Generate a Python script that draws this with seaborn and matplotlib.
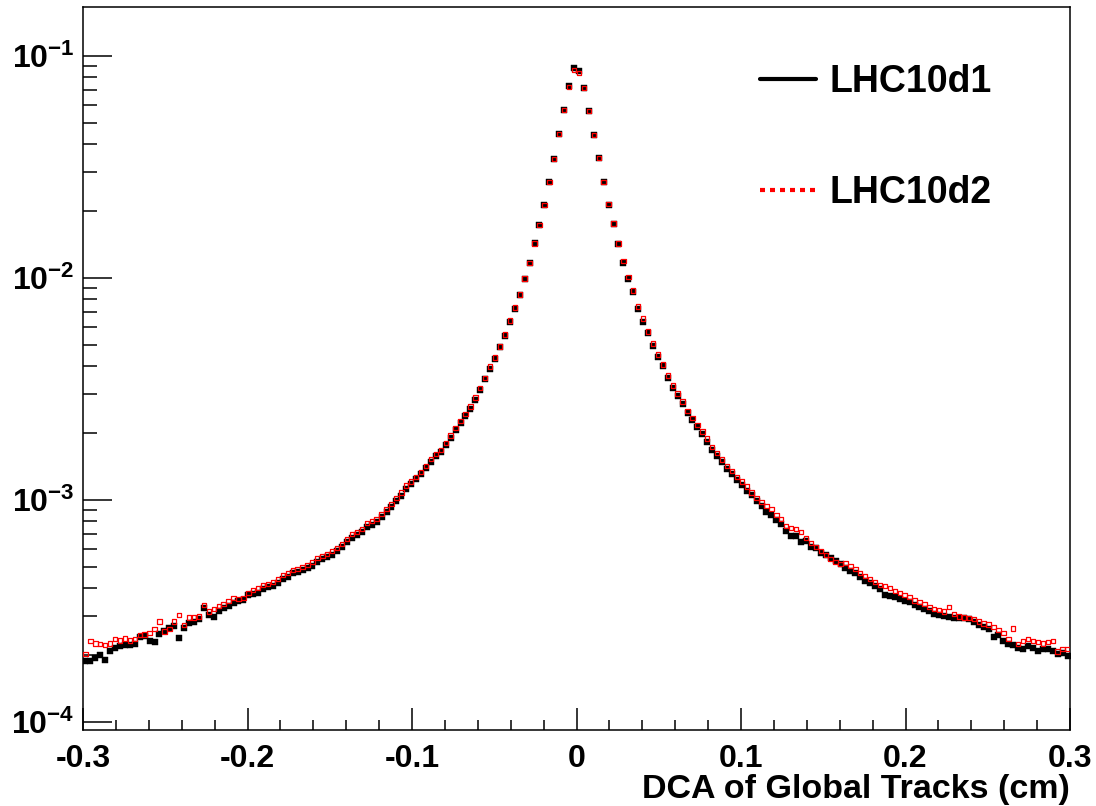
import numpy as np
import pandas as pd
import seaborn as sns
import matplotlib.pyplot as plt
from matplotlib.lines import Line2D
from matplotlib.ticker import MultipleLocator, FixedLocator, LogLocator, NullFormatter

# DCA histogram, 200 bins of 0.003 cm between -0.3 and 0.3
DCA_RANGE = (-0.3, 0.3)
N_BINS = 200

lhc10d1 = [
    1.89e-4, 1.88e-4, 1.95e-4, 2.00e-4, 1.91e-4, 2.08e-4, 2.15e-4, 2.19e-4, 2.22e-4, 2.22e-4,
    2.24e-4, 2.41e-4, 2.43e-4, 2.31e-4, 2.29e-4, 2.48e-4, 2.56e-4, 2.64e-4, 2.70e-4, 2.38e-4,
    2.64e-4, 2.78e-4, 2.81e-4, 2.90e-4, 3.25e-4, 3.03e-4, 2.96e-4, 3.15e-4, 3.25e-4, 3.32e-4,
    3.43e-4, 3.50e-4, 3.53e-4, 3.72e-4, 3.76e-4, 3.80e-4, 3.96e-4, 4.05e-4, 4.09e-4, 4.22e-4,
    4.40e-4, 4.49e-4, 4.68e-4, 4.73e-4, 4.83e-4, 4.93e-4, 5.04e-4, 5.25e-4, 5.41e-4, 5.53e-4,
    5.64e-4, 5.88e-4, 6.13e-4, 6.46e-4, 6.74e-4, 6.95e-4, 7.17e-4, 7.55e-4, 7.71e-4, 7.96e-4,
    8.38e-4, 8.83e-4, 9.30e-4, 9.90e-4, 1.04e-3, 1.12e-3, 1.18e-3, 1.24e-3, 1.31e-3, 1.39e-3,
    1.48e-3, 1.58e-3, 1.65e-3, 1.77e-3, 1.90e-3, 2.07e-3, 2.23e-3, 2.39e-3, 2.57e-3, 2.83e-3,
    3.14e-3, 3.52e-3, 3.90e-3, 4.33e-3, 4.86e-3, 5.50e-3, 6.36e-3, 7.28e-3, 8.34e-3, 9.85e-3,
    1.17e-2, 1.43e-2, 1.73e-2, 2.13e-2, 2.70e-2, 3.43e-2, 4.45e-2, 5.71e-2, 7.33e-2, 8.83e-2,
    8.56e-2, 7.18e-2, 5.65e-2, 4.40e-2, 3.46e-2, 2.70e-2, 2.13e-2, 1.74e-2, 1.42e-2, 1.17e-2,
    9.85e-3, 8.60e-3, 7.28e-3, 6.36e-3, 5.62e-3, 4.91e-3, 4.42e-3, 3.99e-3, 3.55e-3, 3.20e-3,
    2.95e-3, 2.71e-3, 2.47e-3, 2.30e-3, 2.14e-3, 1.99e-3, 1.83e-3, 1.68e-3, 1.58e-3, 1.48e-3,
    1.38e-3, 1.31e-3, 1.23e-3, 1.17e-3, 1.10e-3, 1.05e-3, 9.90e-4, 9.40e-4, 8.83e-4, 8.56e-4,
    8.12e-4, 7.79e-4, 7.24e-4, 6.88e-4, 6.85e-4, 6.46e-4, 6.53e-4, 6.13e-4, 6.07e-4, 5.76e-4,
    5.64e-4, 5.47e-4, 5.30e-4, 5.14e-4, 4.93e-4, 4.78e-4, 4.68e-4, 4.49e-4, 4.31e-4, 4.22e-4,
    4.09e-4, 3.96e-4, 3.72e-4, 3.69e-4, 3.65e-4, 3.57e-4, 3.50e-4, 3.46e-4, 3.36e-4, 3.29e-4,
    3.22e-4, 3.15e-4, 3.06e-4, 3.03e-4, 2.99e-4, 2.96e-4, 2.93e-4, 2.93e-4, 2.93e-4, 2.90e-4,
    2.81e-4, 2.73e-4, 2.67e-4, 2.62e-4, 2.41e-4, 2.46e-4, 2.31e-4, 2.24e-4, 2.22e-4, 2.15e-4,
    2.13e-4, 2.19e-4, 2.15e-4, 2.08e-4, 2.13e-4, 2.13e-4, 2.08e-4, 2.02e-4, 2.04e-4, 1.98e-4,
]

lhc10d2 = [
    2.02e-4, 2.31e-4, 2.26e-4, 2.24e-4, 2.22e-4, 2.26e-4, 2.36e-4, 2.33e-4, 2.38e-4, 2.33e-4,
    2.36e-4, 2.46e-4, 2.48e-4, 2.51e-4, 2.62e-4, 2.84e-4, 2.56e-4, 2.62e-4, 2.84e-4, 3.03e-4,
    2.73e-4, 2.96e-4, 2.96e-4, 2.99e-4, 3.36e-4, 3.15e-4, 3.22e-4, 3.32e-4, 3.39e-4, 3.50e-4,
    3.61e-4, 3.57e-4, 3.61e-4, 3.80e-4, 3.92e-4, 4.00e-4, 4.13e-4, 4.17e-4, 4.26e-4, 4.40e-4,
    4.58e-4, 4.68e-4, 4.83e-4, 4.88e-4, 4.98e-4, 5.09e-4, 5.25e-4, 5.47e-4, 5.59e-4, 5.70e-4,
    5.88e-4, 6.07e-4, 6.33e-4, 6.67e-4, 7.02e-4, 7.17e-4, 7.40e-4, 7.87e-4, 8.04e-4, 8.21e-4,
    8.65e-4, 9.11e-4, 9.59e-4, 1.02e-3, 1.08e-3, 1.16e-3, 1.21e-3, 1.27e-3, 1.34e-3, 1.42e-3,
    1.53e-3, 1.61e-3, 1.68e-3, 1.81e-3, 1.95e-3, 2.11e-3, 2.27e-3, 2.44e-3, 2.63e-3, 2.89e-3,
    3.20e-3, 3.55e-3, 3.99e-3, 4.38e-3, 4.91e-3, 5.56e-3, 6.43e-3, 7.36e-3, 8.42e-3, 9.95e-3,
    1.17e-2, 1.43e-2, 1.73e-2, 2.13e-2, 2.70e-2, 3.43e-2, 4.45e-2, 5.71e-2, 7.25e-2, 8.65e-2,
    8.39e-2, 7.18e-2, 5.65e-2, 4.40e-2, 3.46e-2, 2.70e-2, 2.15e-2, 1.76e-2, 1.43e-2, 1.19e-2,
    1.01e-2, 8.78e-3, 7.44e-3, 6.56e-3, 5.73e-3, 5.06e-3, 4.52e-3, 4.07e-3, 3.63e-3, 3.27e-3,
    3.01e-3, 2.77e-3, 2.52e-3, 2.34e-3, 2.18e-3, 2.03e-3, 1.89e-3, 1.73e-3, 1.63e-3, 1.52e-3,
    1.42e-3, 1.35e-3, 1.27e-3, 1.21e-3, 1.15e-3, 1.08e-3, 1.02e-3, 9.79e-4, 9.40e-4, 9.11e-4,
    8.56e-4, 8.21e-4, 7.63e-4, 7.47e-4, 7.40e-4, 7.17e-4, 6.74e-4, 6.39e-4, 6.13e-4, 5.88e-4,
    5.64e-4, 5.41e-4, 5.25e-4, 5.14e-4, 5.19e-4, 5.04e-4, 4.88e-4, 4.68e-4, 4.54e-4, 4.40e-4,
    4.26e-4, 4.13e-4, 4.09e-4, 4.00e-4, 3.88e-4, 3.80e-4, 3.72e-4, 3.65e-4, 3.53e-4, 3.46e-4,
    3.39e-4, 3.29e-4, 3.22e-4, 3.19e-4, 3.15e-4, 3.29e-4, 3.06e-4, 2.99e-4, 2.96e-4, 2.93e-4,
    2.90e-4, 2.84e-4, 2.78e-4, 2.75e-4, 2.67e-4, 2.59e-4, 2.51e-4, 2.36e-4, 2.64e-4, 2.24e-4,
    2.31e-4, 2.36e-4, 2.31e-4, 2.29e-4, 2.26e-4, 2.29e-4, 2.31e-4, 2.08e-4, 2.13e-4, 2.13e-4,
]

y_ticks = [1e-4, 1e-3, 1e-2, 1e-1]
y_ticklabels = [r"$\mathbf{10^{-4}}$", r"$\mathbf{10^{-3}}$", r"$\mathbf{10^{-2}}$", r"$\mathbf{10^{-1}}$"]
x_ticks = [-0.3, -0.2, -0.1, 0, 0.1, 0.2, 0.3]
x_ticklabels = ["-0.3", "-0.2", "-0.1", "0", "0.1", "0.2", "0.3"]

sns.set_style("white")
plt.rcParams["font.family"] = ["Liberation Sans", "DejaVu Sans"]
plt.rcParams["font.weight"] = "bold"
plt.rcParams["text.color"] = "black"
plt.rcParams["mathtext.fontset"] = "custom"
plt.rcParams["mathtext.rm"] = "Liberation Sans:bold"
plt.rcParams["mathtext.bf"] = "Liberation Sans:bold"

edges = np.linspace(DCA_RANGE[0], DCA_RANGE[1], N_BINS + 1)
centres = 0.5 * (edges[:-1] + edges[1:])
df = pd.DataFrame({"dca": centres, "LHC10d1": lhc10d1, "LHC10d2": lhc10d2})

fig = plt.figure(figsize=(10.96, 8.06), dpi=100)
ax = fig.add_axes([83 / 1096, 1 - 730 / 806, 987 / 1096, 723 / 806])

sns.scatterplot(data=df, x="dca", y="LHC10d1", ax=ax, marker="s", s=14,
                color="black", edgecolor="black", linewidth=0.3, zorder=3)
sns.scatterplot(data=df, x="dca", y="LHC10d2", ax=ax, marker="s", s=10,
                facecolors="none", edgecolor="red", linewidth=0.9, zorder=4)

ax.set_yscale("log")
ax.set_xlim(*DCA_RANGE)
ax.set_ylim(9.2e-5, 0.166)

ax.xaxis.set_major_locator(FixedLocator(x_ticks))
ax.set_xticklabels(x_ticklabels)
ax.xaxis.set_minor_locator(MultipleLocator(0.02))
ax.yaxis.set_major_locator(FixedLocator(y_ticks))
ax.set_yticklabels(y_ticklabels)
ax.yaxis.set_minor_locator(LogLocator(base=10, subs=np.arange(2, 10)))
ax.yaxis.set_minor_formatter(NullFormatter())

ax.tick_params(axis="both", which="both", direction="in", top=False, right=False,
               bottom=True, left=True, width=1.1, color="black", labelcolor="black",
               labelsize=23)
ax.tick_params(axis="x", which="major", length=16, pad=10)
ax.tick_params(axis="x", which="minor", length=7)
ax.tick_params(axis="y", which="major", length=21, pad=6)
ax.tick_params(axis="y", which="minor", length=10)
for lab in ax.get_xticklabels() + ax.get_yticklabels():
    lab.set_fontweight("bold")

for sp in ax.spines.values():
    sp.set_visible(True)
    sp.set_color("black")
    sp.set_linewidth(1.1)

ax.set_xlabel("DCA of Global Tracks (cm)", fontsize=24.5, fontweight="bold",
              color="black", loc="right", labelpad=0)
ax.set_ylabel("")

handles = [Line2D([], [], color="black", lw=3),
           Line2D([], [], color="red", lw=3, linestyle=(0, (1.2, 1.2)))]
ax.legend(handles, ["LHC10d1", "LHC10d2"], loc="upper left", bbox_to_anchor=(0.686, 0.921),
          frameon=False, handlelength=1.5, handletextpad=0.35,
          labelspacing=2.0, borderpad=0, borderaxespad=0,
          prop={"weight": "bold", "size": 27})

fig.savefig("out.png", dpi=100)
